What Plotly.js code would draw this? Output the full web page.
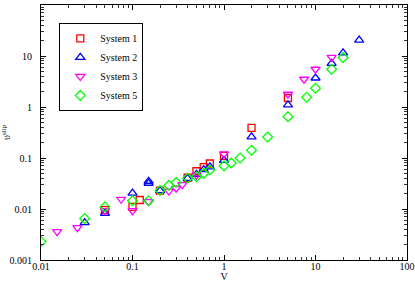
<!DOCTYPE html>
<html>
<head>
<meta charset="utf-8">
<script src="https://cdn.plot.ly/plotly-3.0.1.min.js"></script>
<style>html,body{margin:0;padding:0;background:#fff;}#chart{width:415px;height:282px;}</style>
</head>
<body>
<div id="chart"></div>
<script>
const sys1X = [0.05, 0.1, 0.12, 0.2, 0.4, 0.5, 0.6, 0.7, 1, 2, 5];
const sys1Y = [0.0095, 0.011, 0.015, 0.023, 0.041, 0.055, 0.066, 0.078, 0.11, 0.39, 1.5];

const sys2X = [0.03, 0.05, 0.1, 0.15, 0.15, 0.2, 0.4, 0.5, 0.6, 0.7, 1, 2, 5, 10, 15, 20, 30];
const sys2Y = [0.0054, 0.0082, 0.0205, 0.035, 0.032, 0.023, 0.040, 0.048, 0.059, 0.067, 0.09, 0.26, 1.1, 3.7, 7.2, 11.5, 20.5];

const sys3X = [0.015, 0.025, 0.05, 0.075, 0.1, 0.15, 0.25, 0.3, 0.35, 0.5, 1, 5, 7.5, 10, 15];
const sys3Y = [0.0036, 0.0043, 0.0093, 0.0155, 0.0093, 0.014, 0.0225, 0.0255, 0.030, 0.046, 0.12, 1.78, 3.5, 5.5, 9.4];

const sys5X = [0.01, 0.03, 0.05, 0.1, 0.15, 0.2, 0.25, 0.3, 0.4, 0.5, 0.6, 0.7, 1, 1.2, 1.5, 2, 3, 5, 8, 10, 15, 20];
const sys5Y = [0.0023, 0.0065, 0.011, 0.0145, 0.0145, 0.023, 0.029, 0.033, 0.040, 0.043, 0.050, 0.058, 0.07, 0.08, 0.10, 0.142, 0.258, 0.645, 1.55, 2.33, 5.5, 9.3];

const seriesNames = ["System 1", "System 2", "System 3", "System 5"];

const xTickVals = [0.01, 0.1, 1, 10, 100];
const xTickText = ["0.01", "0.1", "1", "10", "100"];
const yTickVals = [0.001, 0.01, 0.1, 1, 10, 100];
const yTickText = ["0.001", "0.01", "0.1", "1", "10", "100"];

const font = "Liberation Serif, Times New Roman, serif";

function mk(x, y, name, symbol, color, size) {
  return {
    x: x, y: y, name: name, type: "scatter", mode: "markers",
    marker: {symbol: symbol, size: size, color: color, line: {color: color, width: 1.3}}
  };
}

const data = [
  mk(sys1X, sys1Y, seriesNames[0], "square-open", "#ff0000", 7),
  mk(sys2X, sys2Y, seriesNames[1], "triangle-up-open", "#0000ff", 8),
  mk(sys3X, sys3Y, seriesNames[2], "triangle-down-open", "#ff00ff", 8),
  mk(sys5X, sys5Y, seriesNames[3], "diamond-open", "#00ff00", 7.5)
];

const axisCommon = {
  type: "log",
  showgrid: false,
  zeroline: false,
  showline: true,
  linecolor: "#000",
  linewidth: 1,
  mirror: "allticks",
  ticks: "inside",
  ticklen: 5,
  tickwidth: 1,
  tickcolor: "#000",
  tickfont: {family: font, size: 10, color: "#000"},
  tickmode: "array",
  minor: {ticks: "inside", ticklen: 3, tickwidth: 1, tickcolor: "#333", dtick: "D1", showgrid: false}
};

const layout = {
  width: 415, height: 282,
  margin: {l: 41, r: 8, t: 5, b: 22},
  paper_bgcolor: "#fff", plot_bgcolor: "#fff",
  font: {family: font, size: 10, color: "#000"},
  showlegend: true,
  legend: {
    x: 0.05, y: 0.93, xanchor: "left", yanchor: "top",
    bordercolor: "#000", borderwidth: 1, bgcolor: "#fff",
    font: {family: font, size: 10, color: "#000"},
    itemwidth: 30, tracegroupgap: 0
  },
  xaxis: Object.assign({}, axisCommon, {
    range: [-2, 2], tickvals: xTickVals, ticktext: xTickText,
    ticklabelstandoff: -3,
    automargin: false,
    title: {text: "V", font: {family: font, size: 10}, standoff: 3}
  }),
  yaxis: Object.assign({}, axisCommon, {
    range: [-3, 2], tickvals: yTickVals, ticktext: yTickText,
    ticklabelstandoff: 6,
    automargin: false,
    title: {text: "υ<sup>slip</sup>", font: {family: font, size: 10}, standoff: 0}
  })
};

Plotly.newPlot("chart", data, layout, {displayModeBar: false, staticPlot: true});
</script>
</body>
</html>
